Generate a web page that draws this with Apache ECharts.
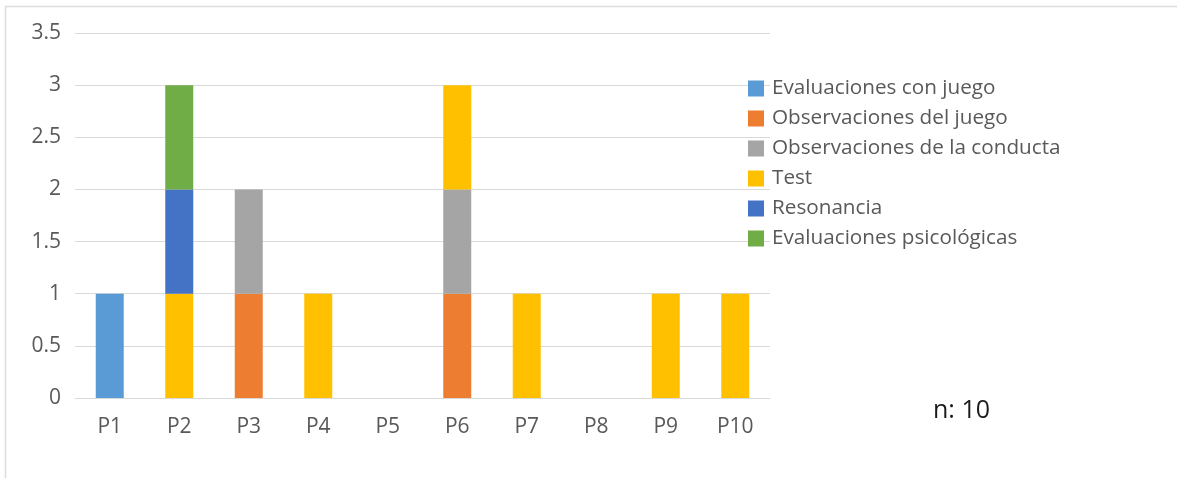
<!DOCTYPE html>
<html>
<head>
<meta charset="utf-8">
<script src="https://cdn.jsdelivr.net/npm/echarts@6/dist/echarts.min.js"></script>
<style>
  html, body { margin: 0; padding: 0; background: #ffffff; }
  #chart { width: 1177px; height: 478px; }
</style>
</head>
<body>
<div id="chart"></div>
<script>
// Participants on the x axis
const categories = ['P1', 'P2', 'P3', 'P4', 'P5', 'P6', 'P7', 'P8', 'P9', 'P10'];

// Count of instruments per participant, one array per instrument type
const evaluacionesConJuego      = [1, null, null, null, null, null, null, null, null, null];
const observacionesDelJuego     = [null, null, 1, null, null, 1, null, null, null, null];
const observacionesDeLaConducta = [null, null, 1, null, null, 1, null, null, null, null];
const test                      = [null, 1, null, 1, null, 1, 1, null, 1, 1];
const resonancia                = [null, 1, null, null, null, null, null, null, null, null];
const evaluacionesPsicologicas  = [null, 1, null, null, null, null, null, null, null, null];

const seriesNames = [
  'Evaluaciones con juego',
  'Observaciones del juego',
  'Observaciones de la conducta',
  'Test',
  'Resonancia',
  'Evaluaciones psicológicas'
];
const seriesData = [
  evaluacionesConJuego,
  observacionesDelJuego,
  observacionesDeLaConducta,
  test,
  resonancia,
  evaluacionesPsicologicas
];
const seriesColors = ['#5B9BD5', '#ED7D31', '#A5A5A5', '#FFC000', '#4472C4', '#70AD47'];

const noteText = 'n: 10';

const fontFamily = '"Open Sans", "Noto Sans", sans-serif';
const chart = echarts.init(document.getElementById('chart'), null, { renderer: 'canvas' });

chart.setOption({
  animation: false,
  backgroundColor: '#ffffff',
  color: seriesColors,
  grid: { left: 75, right: 407, top: 33, bottom: 80, containLabel: false },
  legend: {
    orient: 'vertical',
    left: 748,
    top: 78,
    padding: 0,
    itemWidth: 16,
    itemHeight: 16,
    itemGap: 9,
    icon: 'rect',
    textStyle: { color: '#595959', fontSize: 20.7, fontFamily: fontFamily, padding: [0, 0, 0, 3] },
    data: seriesNames
  },
  xAxis: {
    type: 'category',
    data: categories,
    axisLine: { show: true, lineStyle: { color: '#d9d9d9', width: 1 } },
    axisTick: { show: false },
    axisLabel: { color: '#595959', fontSize: 21, fontFamily: fontFamily, margin: 19 }
  },
  yAxis: {
    type: 'value',
    min: 0,
    max: 3.5,
    interval: 0.5,
    axisLine: { show: false },
    axisTick: { show: false },
    axisLabel: { color: '#595959', fontSize: 21, fontFamily: fontFamily, margin: 14 },
    splitLine: { lineStyle: { color: '#d9d9d9', width: 1 } }
  },
  series: seriesNames.map((name, i) => ({
    name: name,
    type: 'bar',
    stack: 'total',
    barWidth: 28,
    data: seriesData[i],
    itemStyle: { color: seriesColors[i] }
  })),
  graphic: [
    {
      type: 'polyline',
      silent: true,
      shape: { points: [[5.5, 478], [5.5, 6.5], [1177, 6.5]] },
      style: { stroke: '#dcdcdc', lineWidth: 1.5, fill: null }
    },
    {
      type: 'text',
      x: 933,
      y: 411,
      style: { text: noteText, fill: '#1a1a1a', fontSize: 25, fontFamily: fontFamily, verticalAlign: 'middle' }
    }
  ]
});
</script>
</body>
</html>
